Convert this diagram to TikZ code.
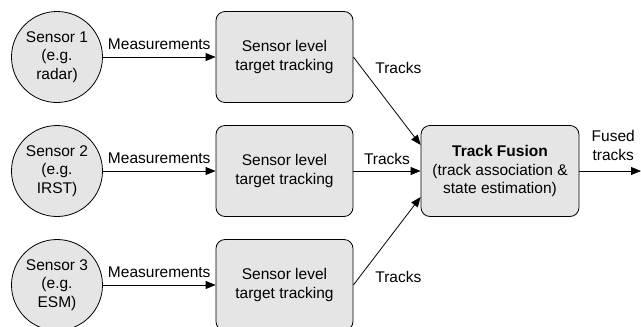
\documentclass[tikz,border=0pt]{standalone}
\usepackage{fontspec}
\setmainfont{Liberation Sans}
\usetikzlibrary{arrows.meta}

\tikzset{
  sensor/.style={circle, draw, fill=gray!20, minimum size=91pt, inner sep=0pt, align=center},
  tracker/.style={rectangle, rounded corners=9pt, draw, fill=gray!20, minimum width=137pt, minimum height=91pt, inner sep=0pt, align=center},
  fusion/.style={tracker, minimum width=158pt},
  flow/.style={-{Triangle[length=10pt,width=8pt]}},
  lbl/.style={inner sep=0pt, align=center}
}

\begin{document}
\begin{tikzpicture}[x=1pt, y=-1pt, line width=0.8pt, font=\fontsize{15.5}{18.5}\selectfont]
        \useasboundingbox (0,0) rectangle (641,327);

        % Sensors and their trackers:
        % one row per sensor, the measurements go straight right
        \foreach \n/\kind/\y in {1/radar/57, 2/IRST/171, 3/ESM/285}{%
            \node[sensor]  (s\n) at (57,\y)    {Sensor \n\\(e.g.\\\kind)};
            \node[tracker] (t\n) at (284.5,\y) {Sensor level\\target tracking};
            \draw[flow] (s\n) -- (t\n) node[lbl, midway, above=7pt] (m\n) {Measurements};
        }

        % Fusion centre:
        \node[fusion] (fus) at (500,171) {\textbf{Track Fusion}\\(track association \&\\state estimation)};

        % Tracks into the fusion:
        \draw[flow] (t1.east) -- ([yshift=26pt]fus.west);
        \draw[flow] (t2) -- (fus) node[lbl, midway, above=6pt] (k2) {Tracks};
        \draw[flow] (t3.east) -- ([yshift=-26pt]fus.west);
        \node[lbl, anchor=base west] (k1) at (375,73)  {Tracks};
        \node[lbl, anchor=base west] (k3) at (375,282) {Tracks};

        % Output:
        \coordinate (out) at (641,171);
        \draw[flow] (fus) -- (out) node[lbl, pos=0.55, above=10pt] (ft) {Fused\\tracks};
\end{tikzpicture}
\end{document}
